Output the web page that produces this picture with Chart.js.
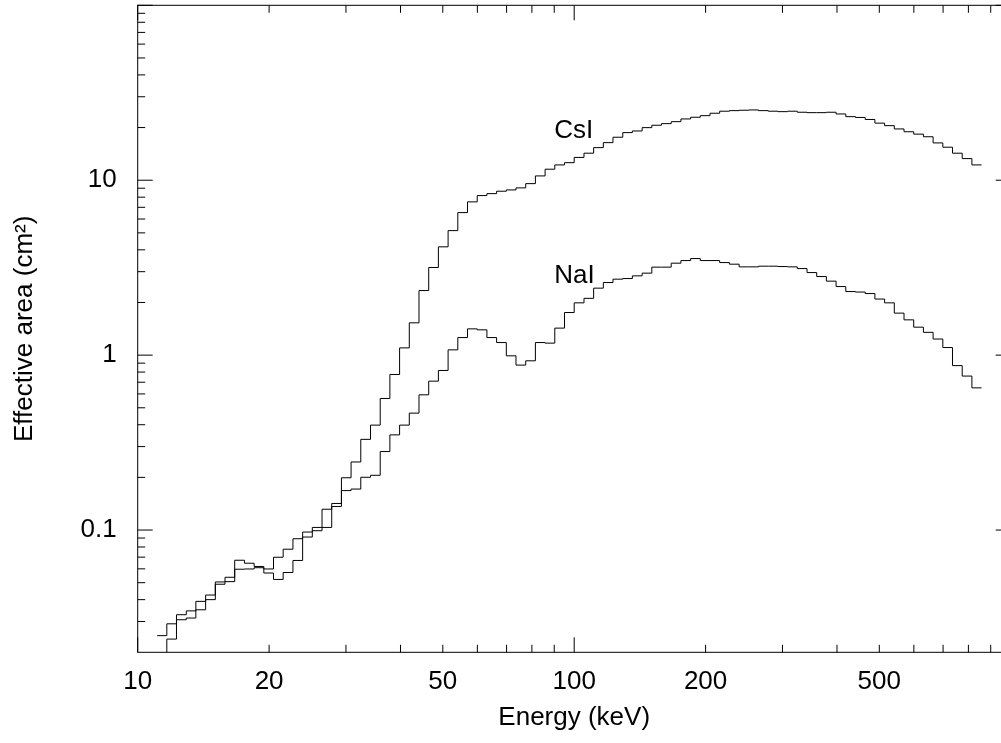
<!DOCTYPE html>
<html>
<head>
<meta charset="utf-8">
<script src="https://cdn.jsdelivr.net/npm/chart.js@4.4.1/dist/chart.umd.min.js"></script>
<style>
    html, body { margin: 0; padding: 0; overflow: hidden; background: #fff; }
    #wrap { position: relative; width: 1015px; height: 743px; }
</style>
</head>
<body>
<div id="wrap"><canvas id="areaChart"></canvas></div>
<script>
// Lower bin edges (keV), last entry is the upper edge of the last bin
const binEdges = [11.08, 11.66, 12.27, 12.92, 13.59, 14.31, 15.06, 15.85, 16.68, 17.56,
    18.48, 19.45, 20.47, 21.54, 22.68, 23.87, 25.12, 26.44, 27.83, 29.29,
    30.82, 32.44, 34.15, 35.94, 37.82, 39.81, 41.90, 44.10, 46.42, 48.85,
    51.42, 54.12, 56.96, 59.95, 63.10, 66.41, 69.90, 73.56, 77.43, 81.49,
    85.77, 90.27, 95.01, 100.0, 105.3, 110.8, 116.6, 122.7, 129.2, 135.9,
    143.1, 150.6, 158.5, 166.8, 175.6, 184.8, 194.5, 204.7, 215.4, 226.8,
    238.7, 251.2, 264.4, 278.3, 292.9, 308.2, 324.4, 341.5, 359.4, 378.2,
    398.1, 419.0, 441.0, 464.2, 488.5, 514.2, 541.2, 569.6, 599.5, 631.0,
    664.1, 699.0, 735.6, 774.3, 814.9, 857.7];

// Effective area per bin (cm^2)
const csiArea = [0.012, 0.0238, 0.0307, 0.0314, 0.0350, 0.0400, 0.0490, 0.0507, 0.0597, 0.0599,
    0.0609, 0.0599, 0.0699, 0.0777, 0.0892, 0.0974, 0.1035, 0.1315, 0.1419, 0.199,
    0.245, 0.330, 0.398, 0.565, 0.775, 1.10, 1.53, 2.34, 3.17, 4.16,
    5.15, 6.53, 7.52, 8.17, 8.38, 8.65, 8.80, 9.04, 9.56, 10.58,
    11.56, 12.23, 12.60, 13.50, 14.27, 15.36, 16.40, 17.61, 18.71, 19.12,
    19.98, 20.62, 21.06, 21.62, 22.40, 22.91, 23.39, 24.15, 24.80, 24.99,
    25.12, 25.22, 24.99, 24.80, 24.66, 24.80, 24.47, 24.34, 24.34, 24.47,
    23.92, 23.09, 22.85, 22.25, 21.20, 20.51, 19.64, 18.93, 18.34, 17.72,
    16.34, 15.44, 14.27, 13.29, 12.23];

const naiArea = [0.0249, 0.0291, 0.0328, 0.0345, 0.0391, 0.0425, 0.0505, 0.0537, 0.0672, 0.0646,
    0.0619, 0.0568, 0.0522, 0.0572, 0.0670, 0.0912, 0.0991, 0.1035, 0.1364, 0.1681,
    0.1715, 0.2003, 0.2056, 0.281, 0.350, 0.398, 0.466, 0.593, 0.710, 0.817,
    1.072, 1.260, 1.413, 1.395, 1.260, 1.180, 0.991, 0.877, 0.928, 1.180,
    1.171, 1.427, 1.752, 1.990, 2.112, 2.415, 2.600, 2.718, 2.740, 2.839,
    2.942, 3.184, 3.184, 3.355, 3.472, 3.565, 3.472, 3.472, 3.382, 3.311,
    3.196, 3.196, 3.225, 3.225, 3.209, 3.196, 3.125, 2.965, 2.813, 2.648,
    2.466, 2.309, 2.294, 2.249, 2.092, 1.990, 1.738, 1.591, 1.445, 1.350,
    1.236, 1.105, 0.871, 0.759, 0.650];

// Tick values
const xLabelTicks = [10, 20, 50, 100, 200, 500];
const xMajorTicks = [10, 100, 1000];
const xMinorTicks = [20, 30, 40, 50, 60, 70, 80, 90, 200, 300, 400, 500, 600, 700, 800, 900];
const yLabelTicks = [0.1, 1, 10];
const yMajorTicks = [0.1, 1, 10, 100];
const yMinorTicks = [0.03, 0.04, 0.05, 0.06, 0.07, 0.08, 0.09,
    0.2, 0.3, 0.4, 0.5, 0.6, 0.7, 0.8, 0.9,
    2, 3, 4, 5, 6, 7, 8, 9,
    20, 30, 40, 50, 60, 70, 80, 90];

// Curve labels and where they sit (data coordinates)
const curveNames = ["CsI", "NaI"];
const curveLabelEnergy = [90, 90];
const curveLabelArea = [17.5, 2.6];

const FONT = '"Liberation Sans", Arial, sans-serif';

function stepPoints(values) {
    // one point per lower edge, the final edge repeats the last value
    return binEdges.map((e, i) => ({ x: e, y: values[Math.min(i, values.length - 1)] }));
}

// frame, inward ticks on all four sides, and the curve names
const framePlugin = {
    id: "frame",
    afterDatasetsDraw(chart) {
        const { ctx, chartArea: a, scales } = chart;
        const xs = scales.x, ys = scales.y;
        ctx.save();
        ctx.strokeStyle = "#000";
        ctx.lineWidth = 1;
        ctx.strokeRect(a.left, a.top, a.right - a.left, a.bottom - a.top);
        ctx.beginPath();
        const xTick = (v, len) => {
            const px = xs.getPixelForValue(v);
            ctx.moveTo(px, a.bottom); ctx.lineTo(px, a.bottom - len);
            ctx.moveTo(px, a.top); ctx.lineTo(px, a.top + len);
        };
        const yTick = (v, len) => {
            const py = ys.getPixelForValue(v);
            ctx.moveTo(a.left, py); ctx.lineTo(a.left + len, py);
            ctx.moveTo(a.right, py); ctx.lineTo(a.right - len, py);
        };
        xMajorTicks.forEach(v => xTick(v, 15));
        xMinorTicks.forEach(v => xTick(v, 7.5));
        yMajorTicks.forEach(v => yTick(v, 15));
        yMinorTicks.forEach(v => yTick(v, 7.5));
        ctx.stroke();

        ctx.fillStyle = "#000";
        ctx.font = "26px " + FONT;
        ctx.textBaseline = "alphabetic";
        ctx.textAlign = "left";
        curveNames.forEach((name, i) => {
            ctx.fillText(name, xs.getPixelForValue(curveLabelEnergy[i]), ys.getPixelForValue(curveLabelArea[i]));
        });
        ctx.restore();
    }
};

function noPadding(scale) {
    scale.paddingTop = 0;
    scale.paddingBottom = 0;
    scale.paddingLeft = 0;
    scale.paddingRight = 0;
}

Chart.defaults.font.family = FONT;
Chart.defaults.font.size = 26;
Chart.defaults.color = "#000";

const ctx = document.getElementById("areaChart").getContext("2d");
new Chart(ctx, {
    type: "line",
    data: {
        datasets: [
            {
                label: "CsI",
                data: stepPoints(csiArea),
                borderColor: "#000",
                borderWidth: 1,
                pointRadius: 0,
                stepped: true,
                fill: false
            },
            {
                label: "NaI",
                data: stepPoints(naiArea),
                borderColor: "#000",
                borderWidth: 1,
                pointRadius: 0,
                stepped: true,
                fill: false
            }
        ]
    },
    options: {
        responsive: true,
        maintainAspectRatio: false,
        animation: false,
        layout: { padding: { left: 0, right: 4.3, top: 5.3, bottom: 0 } },
        plugins: {
            legend: { display: false },
            tooltip: { enabled: false }
        },
        scales: {
            x: {
                type: "logarithmic",
                min: 10,
                max: 1000,
                grid: { display: false, drawTicks: false },
                border: { display: false },
                afterBuildTicks: s => { s.ticks = xLabelTicks.map(v => ({ value: v })); },
                afterFit: s => { noPadding(s); s.height = 90.7; },
                ticks: {
                    autoSkip: false,
                    maxRotation: 0,
                    padding: 14,
                    callback: v => String(v)
                },
                title: {
                    display: true,
                    text: "Energy (keV)",
                    padding: { top: 0, bottom: 10 }
                }
            },
            y: {
                type: "logarithmic",
                min: 0.02,
                max: 100,
                grid: { display: false, drawTicks: false },
                border: { display: false },
                afterBuildTicks: s => { s.ticks = yLabelTicks.map(v => ({ value: v })); },
                afterFit: s => { noPadding(s); s.width = 137.7; },
                ticks: {
                    autoSkip: false,
                    padding: 21,
                    callback: v => String(v)
                },
                title: {
                    display: true,
                    text: "Effective area (cm²)",
                    padding: { top: 9, bottom: 0 }
                }
            }
        }
    },
    plugins: [framePlugin]
});
</script>
</body>
</html>
